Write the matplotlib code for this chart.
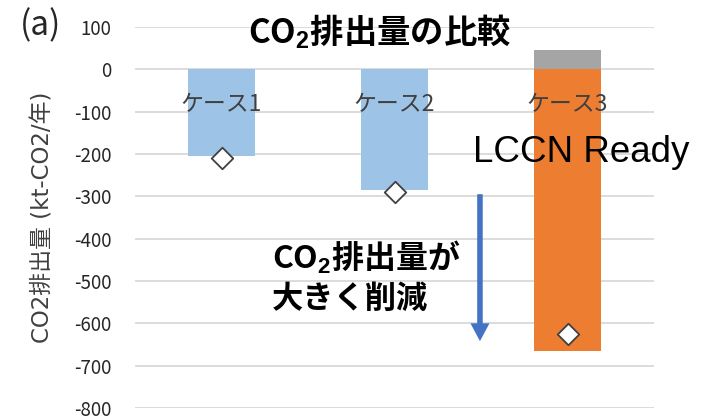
import matplotlib.pyplot as plt
from matplotlib.patches import FancyArrow

plt.rcParams['font.family'] = ['Noto Sans CJK JP', 'DejaVu Sans']
plt.rcParams['axes.unicode_minus'] = False
plt.rcParams['mathtext.fontset'] = 'custom'
plt.rcParams['mathtext.rm'] = 'Liberation Sans:bold'

# ケース別のCO2排出量 (kt-CO2/年)
cases = ['ケース1', 'ケース2', 'ケース3']
reduction = [-205, -285, -665]
extra = [0, 0, 45]
net = [-210, -290, -625]
yticks = [100, 0, -100, -200, -300, -400, -500, -600, -700, -800]

fig = plt.figure(figsize=(7.11, 4.18), dpi=100)
ax = fig.add_axes([135 / 711, 10 / 418, 519 / 711, 381 / 418])

x = range(len(cases))
colors = ['#9dc3e6', '#9dc3e6', '#ed7d31']
ax.bar(x, reduction, width=0.39, color=colors, zorder=2)
ax.bar(x, extra, width=0.39, color='#a5a5a5', zorder=2)
ax.scatter(x, net, marker='D', s=120, facecolor='white', edgecolor='#404040',
           linewidth=1.3, zorder=3)

for i, name in enumerate(cases):
    ax.text(i, -83, name, ha='center', va='center', fontsize=16.5, color='#404040', zorder=4)

ax.set_xlim(-0.5, 2.5)
ax.set_ylim(-800, 100)
ax.set_yticks(yticks)
ax.tick_params(axis='y', length=0, labelsize=13.5, pad=17, labelcolor='#262626')
ax.set_xticks([])
ax.grid(axis='y', color='#d9d9d9', linewidth=1.3, zorder=0)
for s in ax.spines.values():
    s.set_visible(False)

fig.text(43 / 711, 1 - 217 / 418, 'CO2排出量 (kt-CO2/年)', rotation=90,
         ha='center', va='center', fontsize=16.5, color='#404040',
         family=['DejaVu Sans', 'Noto Sans CJK JP'])
fig.text(20 / 711, 1 - 26 / 418, '(a)', ha='left', va='center', fontsize=24, color='#262626')
fig.text(380 / 711, 1 - 32 / 418, 'CO$_2$排出量の比較', ha='center', va='center',
         fontsize=24, fontweight='bold')

ax.text(2.08, -196, 'LCCN Ready', ha='center', va='center', fontsize=26.5,
        family=['Liberation Sans', 'DejaVu Sans'], zorder=4)

# 削減量を示す下向き矢印
ax.add_patch(FancyArrow(1.494, -295, 0, -347, width=0.032, head_width=0.11,
                        head_length=42, length_includes_head=True,
                        color='#4472c4', lw=0, zorder=4))
ax.text(0.29, -443, 'CO$_2$排出量が', ha='left', va='center', fontsize=23,
        fontweight='bold')
ax.text(0.29, -542, '大きく削減', ha='left', va='center', fontsize=22.5,
        fontweight='bold')

fig.savefig('out.png', dpi=100)
